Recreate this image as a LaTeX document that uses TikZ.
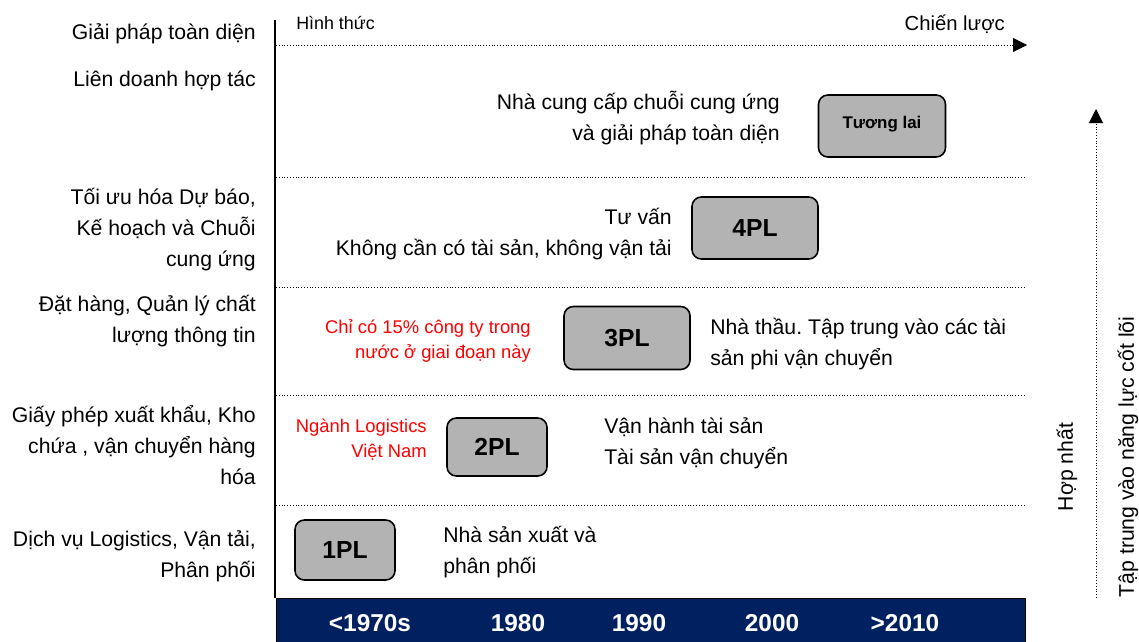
\documentclass[tikz,border=0pt]{standalone}
\usepackage{fontspec}
\setmainfont{Liberation Sans}
\usetikzlibrary{arrows.meta}
\definecolor{navy}{RGB}{0,32,96}
\definecolor{boxgray}{RGB}{179,179,179}
\definecolor{redtxt}{RGB}{255,0,0}
\frenchspacing
\tikzset{
  lbl/.style={inner sep=0pt, font=\fontsize{15.9}{23.25}\selectfont},
  lblr/.style={lbl, anchor=east, align=right},
  lbll/.style={lbl, anchor=west, align=left},
  redlbl/.style={inner sep=0pt, anchor=east, align=right, text=redtxt, font=\fontsize{13.8}{18.75}\selectfont},
  plbox/.style={draw=black, line width=1.2pt, fill=boxgray, rounded corners=7pt, inner sep=0pt, font=\fontsize{18.5}{20}\bfseries\selectfont},
  sep/.style={line width=0.7pt, dash pattern=on 0.7pt off 1.4pt},
  yr/.style={text=white, inner sep=0pt, font=\fontsize{18.3}{20}\bfseries\selectfont},
  tip/.style={-{Triangle[length=10.5pt,width=10.5pt]}}
}
\begin{document}
\begin{tikzpicture}[x=0.75pt,y=-0.75pt]
\useasboundingbox (0,0) rectangle (1139,642);
% bottom bar
\node[draw=black, line width=0.8pt, fill=navy, minimum width=749*0.75pt, minimum height=44*0.75pt, inner sep=0pt, anchor=north west] (bar) at (276,598) {};
\node[yr] (y1) at (370,623) {<1970s};
\node[yr] (y2) at (518,623) {1980};
\node[yr] (y3) at (639,623) {1990};
\node[yr] (y4) at (772,623) {2000};
\node[yr] (y5) at (905,623) {>2010};
% axis
\coordinate (axtop) at (275,20);
\coordinate (axbot) at (275,598);
\draw[line width=1.6pt] (axtop) -- (axbot);
\coordinate (hstart) at (276,45);
\coordinate (hend) at (1027,45);
\draw[sep, tip] (hstart) -- (hend);
\node[inner sep=0pt, anchor=west, font=\fontsize{13.4}{15}\selectfont] (hinh) at (296,23) {Hình thức};
\node[inner sep=0pt, anchor=east, font=\fontsize{15.2}{17}\selectfont] (chien) at (1005,24) {Chiến lược};
% separators
\foreach \yy/\nm in {177/s1,287/s2,395/s3,505/s4}{
  \coordinate (\nm a) at (276,\yy);
  \coordinate (\nm b) at (1025,\yy);
  \draw[sep] (\nm a) -- (\nm b);
}
% left labels
\node[lblr] (l1) at (256,34) {Giải pháp toàn diện};
\node[lblr] (l2) at (256,81) {Liên doanh hợp tác};
\node[lblr] (l3) at (256,230) {Tối ưu hóa Dự báo,\\Kế hoạch và Chuỗi\\cung ứng};
\node[lblr] (l4) at (256,321) {Đặt hàng, Quản lý chất\\lượng thông tin};
\node[lblr] (l5) at (256,445) {Giấy phép xuất khẩu, Kho\\chứa , vận chuyển hàng\\hóa};
\node[lblr] (l6) at (256,556) {Dịch vụ Logistics, Vận tải,\\Phân phối};
% boxes
\node[plbox, minimum width=100*0.75pt, minimum height=60*0.75pt] (p1) at (345,550) {1PL};
\node[plbox, minimum width=100*0.75pt, minimum height=58*0.75pt] (p2) at (497,447) {2PL};
\node[plbox, minimum width=126*0.75pt, minimum height=63*0.75pt] (p3) at (627,338) {3PL};
\node[plbox, minimum width=126*0.75pt, minimum height=62*0.75pt] (p4) at (755,228) {4PL};
\node[plbox, minimum width=127*0.75pt, minimum height=62*0.75pt, font=\fontsize{12.7}{14}\bfseries\selectfont] (p5) at (882,126) {\raisebox{6pt}{Tương lai}};
% descriptions
\node[lbll] (d1) at (443,552) {Nhà sản xuất và\\phân phối};
\node[lbll] (d2) at (604,443) {Vận hành tài sản\\Tài sản vận chuyển};
\node[lbll] (d3) at (710,344) {Nhà thầu. Tập trung vào các tài\\sản phi vận chuyển};
\node[lblr] (d4) at (672,234) {Tư vấn\\Không cần có tài sản, không vận tải};
\node[lblr] (d5) at (780,118) {Nhà cung cấp chuỗi cung ứng\\và giải pháp toàn diện};
\node[redlbl] (r3) at (531,341) {Chỉ có 15\% công ty trong\\nước ở giai đoạn này};
\node[redlbl] (r2) at (427,440) {Ngành Logistics\\Việt Nam};
% right arrow
\coordinate (vbot) at (1096,598);
\coordinate (vtop) at (1096,109);
\draw[sep, tip] (vbot) -- (vtop);
\node[inner sep=0pt, rotate=90, font=\fontsize{15.9}{17}\selectfont] (hop) at (1067,467) {Hợp nhất};
\node[inner sep=0pt, rotate=90, font=\fontsize{15.9}{17}\selectfont] (tap) at (1128,457) {Tập trung vào năng lực cốt lõi};
\end{tikzpicture}
\end{document}
